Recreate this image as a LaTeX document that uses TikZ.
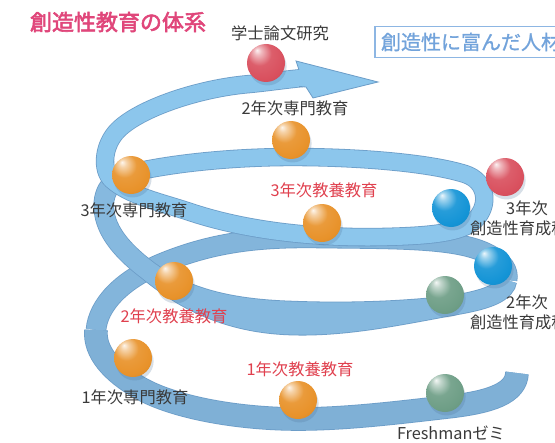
\documentclass[tikz,border=0pt]{standalone}
\usepackage{fontspec}
\usetikzlibrary{shadows}
\newfontfamily\jpfont{Noto Sans CJK JP}
\newfontfamily\jpheavy{Noto Sans CJK JP}[FakeBold=2.5]
\newfontfamily\jpsemi{Noto Sans CJK JP}[FakeBold=1]

% ribbon colours, darker at the bottom, lighter towards the top
\definecolor{ribLow}{HTML}{7FB0D6}
\definecolor{ribBack}{HTML}{83B5DB}
\definecolor{ribMid}{HTML}{86B9DF}
\definecolor{ribHigh}{HTML}{8CC6EC}
\definecolor{ribEdge}{HTML}{6C9DC8}
\definecolor{ribShade}{HTML}{4A6F95}
% text colours
\definecolor{titlePink}{HTML}{E0467A}
\definecolor{goalBlue}{HTML}{72A3DB}
\definecolor{goalEdge}{HTML}{8DB6E3}
\definecolor{lblGray}{HTML}{3A3A3A}
\definecolor{lblRed}{HTML}{E0404E}
% sphere colours
\definecolor{sphOrange}{HTML}{E8922A}
\definecolor{sphRed}{HTML}{D9505E}
\definecolor{sphBlue}{HTML}{1494D6}
\definecolor{sphGreen}{HTML}{6E9E86}

\colorlet{sphcol}{sphOrange}
\pgfdeclareradialshading[sphcol]{sphere}{\pgfpoint{-12bp}{17bp}}{%
  color(0bp)=(sphcol!8!white);
  color(5bp)=(sphcol!40!white);
  color(16bp)=(sphcol!92!white);
  color(30bp)=(sphcol);
  color(45bp)=(sphcol!88!black);
  color(60bp)=(sphcol!80!black)}

\begin{document}
\begin{tikzpicture}[x=0.75pt,y=-0.75pt,
  every node/.style={inner sep=0pt, outer sep=0pt},
  rib/.style 2 args={draw=ribEdge, line width=0.6pt, double=#1, double distance=#2},
  ribfill/.style 2 args={draw=#1, line width=#2},
  sph/.style={circle, minimum size=28.5pt, /utils/exec={\colorlet{sphcol}{#1}},
    shade, shading=sphere,
    drop shadow={shadow xshift=1.2pt, shadow yshift=-2.6pt, opacity=0.22, fill=ribShade}},
  lbl/.style={font=\jpfont\fontsize{12.2}{15}\selectfont, text=lblGray, align=center},
  lblred/.style={lbl, text=lblRed},
  titletext/.style={font=\jpheavy\fontsize{16.5}{20}\selectfont, text=titlePink, anchor=west},
  goalbox/.style={draw=goalEdge, line width=1.1pt, minimum height=23pt, inner xsep=4.5pt,
    font=\jpsemi\fontsize{15}{18}\selectfont, text=goalBlue, anchor=west},
]
\useasboundingbox (0,0) rectangle (555,442);
\clip (0,0) rectangle (555,442);
\fill[white] (0,0) rectangle (555,442);

% ---- spiral ribbon, drawn from the back to the front ----
% first turn, back half
\draw[rib={ribBack}{14.25pt}]
  (96,330) .. controls (98,306) and (120,280) .. (165,262)
  .. controls (215,242) and (260,237) .. (320,238)
  .. controls (400,239) and (460,238) .. (490,255)
  .. controls (503,262) and (509,271) .. (507,280);
% first turn, front half (starts with a flat cut at the lower right)
\draw[rib={ribLow}{16.5pt}]
  (517,373) .. controls (516,393) and (492,402) .. (447,407)
  .. controls (395,413) and (345,419) .. (298,419)
  .. controls (240,419) and (175,408) .. (140,388)
  .. controls (112,372) and (94,352) .. (96,330);
% second turn, front half (widened towards the viewer)
\draw[ribEdge, line width=15.45pt]
  (455,305) .. controls (400,315) and (345,327) .. (290,325)
  .. controls (235,323) and (190,305) .. (150,272);
\draw[rib={ribMid}{14.25pt}]
  (507,280) .. controls (505,292) and (490,299) .. (455,305)
  .. controls (400,312) and (340,313) .. (290,311)
  .. controls (230,309) and (185,298) .. (150,272)
  .. controls (123,252) and (106,232) .. (104,210)
  .. controls (102,188) and (115,177) .. (135,172);
\draw[ribMid, line width=14.25pt]
  (455,305) .. controls (400,315) and (345,327) .. (290,325)
  .. controls (235,323) and (190,305) .. (150,272);
% second turn back half, third turn front half and the top sweep
\draw[rib={ribHigh}{12.6pt}]
  (135,172) .. controls (180,162) and (240,157) .. (292,157)
  .. controls (360,157) and (430,163) .. (465,174)
  .. controls (487,181) and (490,205) .. (475,220)
  .. controls (462,233) and (430,236) .. (380,237)
  .. controls (320,238) and (250,232) .. (190,212)
  .. controls (160,202) and (130,196) .. (112,180)
  .. controls (101,170) and (103,145) .. (118,130)
  .. controls (140,108) and (200,88) .. (250,84)
  .. controls (270,82) and (290,79) .. (303,78);
% arrow head
\fill[ribHigh] (299,69.8) -- (296,61) -- (378,82) -- (313,98) -- (306,87) -- (299,86.4) -- cycle;
\draw[ribEdge, line width=0.6pt, line join=miter]
  (299,69.8) -- (296,61) -- (378,82) -- (313,98) -- (306,87) -- (299,86.4);

% ---- spheres ----
\node[sph=sphRed]    (s-thesis) at (266,63)  {};
\node[sph=sphOrange] (s-sen2)   at (291,140) {};
\node[sph=sphOrange] (s-sen3)   at (131,175) {};
\node[sph=sphRed]    (s-cre3)   at (505,177) {};
\node[sph=sphBlue]   (s-cre3b)  at (451,208) {};
\node[sph=sphOrange] (s-lib3)   at (322,223) {};
\node[sph=sphBlue]   (s-cre2)   at (493,266) {};
\node[sph=sphOrange] (s-lib2)   at (174,281) {};
\node[sph=sphGreen]  (s-cre2b)  at (445,295) {};
\node[sph=sphOrange] (s-sen1)   at (133,358) {};
\node[sph=sphOrange] (s-lib1)   at (298,400) {};
\node[sph=sphGreen]  (s-fresh)  at (445,393) {};

% ---- texts ----
\node[titletext] (title) at (30,22) {創造性教育の体系};
\node[goalbox] (goal) at (375,42) {創造性に富んだ人材};
\node[lbl]    (t-thesis) at (280,33)  {学士論文研究};
\node[lbl]    (t-sen2)   at (295,108) {2年次専門教育};
\node[lbl]    (t-sen3)   at (134,210) {3年次専門教育};
\node[lblred] (t-lib3)   at (324,190) {3年次教養教育};
\node[lbl]    (t-cre3)   at (527,218) {3年次\\創造性育成科目};
\node[lbl]    (t-cre2)   at (527,312) {2年次\\創造性育成科目};
\node[lblred] (t-lib2)   at (174,316) {2年次教養教育};
\node[lblred] (t-lib1)   at (300,369) {1年次教養教育};
\node[lbl]    (t-sen1)   at (135,397) {1年次専門教育};
\node[lbl]    (t-fresh)  at (451,433) {Freshmanゼミ};
\end{tikzpicture}
\end{document}
